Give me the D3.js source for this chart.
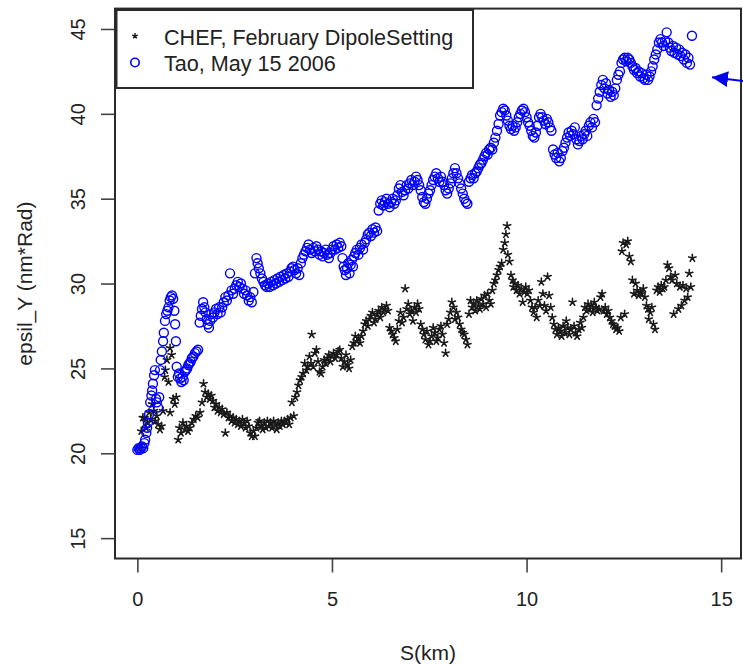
<!DOCTYPE html>
<html>
<head>
<meta charset="utf-8">
<script src="https://cdn.jsdelivr.net/npm/d3@7"></script>
<style>
  html, body { margin: 0; padding: 0; background: #fff; }
  svg { display: block; }
  text { font-family: "Liberation Sans", Arial, Helvetica, sans-serif; fill: #222; }
</style>
</head>
<body>
<svg id="chart" width="743" height="665"></svg>
<script>
// ---------------- data ----------------
const xTicks = [0, 5, 10, 15];
const yTicks = [15, 20, 25, 30, 35, 40, 45];
const xLabel = "S(km)";
const yLabel = "epsil_Y (nm*Rad)";
const legendLabels = ["CHEF, February DipoleSetting", "Tao, May 15 2006"];

// Tao, May 15 2006  [S (km), epsil_Y]
const taoPoints = [
[0.00,20.2],[0.03,20.3],[0.06,20.2],[0.09,20.3],[0.12,20.4],[0.15,20.3],[0.18,20.6],[0.20,20.8],[0.23,21.2],[0.25,21.5],
[0.27,21.8],[0.30,22.3],[0.33,23.0],[0.36,23.4],[0.38,23.7],[0.40,24.1],[0.43,24.6],[0.45,24.9],[0.48,23.2],[0.50,23.0],
[0.53,22.7],[0.56,23.3],[0.58,24.9],[0.60,25.5],[0.63,26.0],[0.66,26.6],[0.68,27.1],[0.71,27.8],[0.74,28.2],[0.77,28.4],
[0.80,28.6],[0.83,29.0],[0.86,29.2],[0.89,29.3],[0.92,29.1],[0.95,28.4],[0.97,27.6],[0.99,26.6],[1.01,25.1],[1.04,24.5],
[1.07,24.7],[1.10,24.4],[1.13,24.2],[1.16,24.5],[1.19,24.3],[1.22,24.8],[1.25,24.9],[1.28,25.0],[1.31,25.2],[1.34,25.3],
[1.37,25.4],[1.40,25.6],[1.44,25.7],[1.48,25.9],[1.52,26.0],[1.56,26.1],[1.60,27.7],[1.63,28.1],[1.66,28.5],[1.69,28.9],
[1.72,28.6],[1.75,28.3],[1.78,27.9],[1.81,27.6],[1.84,27.4],[1.87,27.8],[1.90,28.2],[1.94,28.0],[1.98,28.3],[2.02,28.5],
[2.06,28.2],[2.10,28.6],[2.14,28.3],[2.18,28.6],[2.22,28.9],[2.26,29.2],[2.30,29.0],[2.34,29.3],[2.38,30.6],[2.42,29.6],
[2.46,29.4],[2.50,29.7],[2.54,29.9],[2.58,30.1],[2.62,29.8],[2.66,30.0],[2.70,29.7],[2.74,29.4],[2.78,29.6],[2.82,29.3],
[2.86,29.0],[2.90,29.2],[2.94,28.9],[2.98,29.5],[3.02,30.6],[3.06,31.5],[3.09,31.2],[3.12,30.9],[3.16,30.6],[3.20,30.3],
[3.24,30.1],[3.28,29.9],[3.32,29.8],[3.36,30.0],[3.40,29.8],[3.44,30.1],[3.48,29.9],[3.52,30.2],[3.56,30.0],[3.60,30.3],
[3.64,30.1],[3.68,30.4],[3.72,30.2],[3.76,30.5],[3.80,30.3],[3.84,30.6],[3.88,30.4],[3.92,30.7],[3.96,30.9],[4.00,31.0],
[4.04,30.8],[4.08,30.6],[4.12,30.9],[4.16,30.5],[4.20,31.2],[4.24,31.5],[4.28,31.7],[4.32,31.9],[4.36,32.1],[4.40,32.3],
[4.44,32.0],[4.48,31.8],[4.52,32.1],[4.56,31.9],[4.60,32.2],[4.64,32.0],[4.68,31.7],[4.72,31.9],[4.76,31.6],[4.80,31.8],
[4.84,32.0],[4.88,31.7],[4.92,31.5],[4.96,31.8],[5.00,32.0],[5.04,32.2],[5.08,32.0],[5.12,32.3],[5.16,32.1],[5.20,32.4],
[5.24,32.2],[5.27,31.5],[5.30,31.0],[5.33,30.8],[5.36,30.5],[5.39,30.9],[5.42,31.2],[5.45,30.6],[5.48,31.1],[5.51,31.4],
[5.54,31.0],[5.57,31.6],[5.60,31.8],[5.64,32.0],[5.68,31.7],[5.72,32.1],[5.76,32.3],[5.80,32.0],[5.84,32.4],[5.88,32.6],
[5.92,32.9],[5.96,33.0],[6.00,32.8],[6.04,33.2],[6.08,33.0],[6.12,33.3],[6.16,33.1],[6.20,34.3],[6.24,34.7],[6.28,34.9],
[6.32,34.6],[6.36,34.8],[6.40,35.0],[6.44,34.7],[6.48,34.5],[6.52,34.8],[6.56,35.0],[6.60,34.7],[6.64,34.9],[6.68,35.2],
[6.72,35.6],[6.76,35.8],[6.80,35.4],[6.84,35.2],[6.88,35.5],[6.92,35.8],[6.96,35.6],[7.00,35.9],[7.04,36.1],[7.08,35.8],
[7.12,36.0],[7.16,36.3],[7.20,36.1],[7.24,35.8],[7.28,35.5],[7.32,35.1],[7.36,34.8],[7.40,34.7],[7.44,35.0],[7.48,35.3],
[7.52,35.5],[7.56,35.8],[7.60,36.1],[7.64,36.3],[7.68,36.5],[7.72,36.2],[7.76,36.0],[7.80,36.3],[7.84,36.0],[7.88,35.8],
[7.92,35.5],[7.96,35.3],[8.00,35.6],[8.04,35.9],[8.08,36.2],[8.12,36.5],[8.16,36.8],[8.20,36.5],[8.24,36.2],[8.28,35.9],
[8.32,35.6],[8.36,35.3],[8.40,35.0],[8.44,34.8],[8.48,34.7],[8.52,36.0],[8.56,36.2],[8.60,36.4],[8.64,36.2],[8.68,36.5],
[8.72,36.6],[8.76,36.8],[8.80,37.0],[8.84,37.1],[8.88,37.3],[8.92,37.5],[8.96,37.7],[9.00,37.6],[9.04,37.9],[9.08,38.0],
[9.12,37.9],[9.16,38.3],[9.20,38.6],[9.24,39.0],[9.28,39.4],[9.32,39.9],[9.36,40.1],[9.40,40.3],[9.44,40.2],[9.48,39.9],
[9.52,39.6],[9.56,39.3],[9.60,39.1],[9.64,39.3],[9.68,39.0],[9.72,39.2],[9.76,39.5],[9.80,39.8],[9.84,40.0],[9.88,40.2],
[9.92,40.3],[9.96,40.1],[10.00,39.8],[10.04,39.5],[10.08,39.3],[10.12,39.0],[10.16,38.7],[10.20,38.6],[10.24,38.9],[10.28,39.3],
[10.32,39.8],[10.36,40.0],[10.40,39.8],[10.44,39.6],[10.48,39.4],[10.52,39.7],[10.56,39.5],[10.60,39.2],[10.64,39.0],[10.68,37.9],
[10.72,37.6],[10.76,37.4],[10.80,37.7],[10.84,37.2],[10.88,37.4],[10.92,37.8],[10.96,38.0],[11.00,38.3],[11.04,38.6],[11.08,38.9],
[11.12,38.7],[11.16,39.0],[11.20,38.8],[11.24,39.2],[11.28,38.5],[11.32,38.2],[11.36,38.4],[11.40,38.7],[11.44,38.5],[11.48,38.8],
[11.52,39.0],[11.56,38.7],[11.60,39.3],[11.64,39.5],[11.68,39.2],[11.72,39.7],[11.76,39.5],[11.80,40.5],[11.84,40.9],[11.88,41.3],
[11.92,41.7],[11.96,42.0],[12.00,41.5],[12.04,41.8],[12.08,41.2],[12.12,41.4],[12.16,41.0],[12.20,41.3],[12.24,41.1],[12.28,41.5],
[12.32,42.0],[12.36,42.3],[12.40,42.5],[12.44,43.0],[12.48,43.2],[12.52,43.3],[12.56,43.1],[12.60,43.3],[12.64,43.2],[12.68,43.0],
[12.72,42.8],[12.76,42.6],[12.80,42.7],[12.84,42.4],[12.88,42.5],[12.92,42.2],[12.96,42.4],[13.00,42.1],[13.04,42.0],[13.08,42.3],
[13.12,42.0],[13.16,42.2],[13.20,42.5],[13.24,42.8],[13.28,43.2],[13.32,43.5],[13.36,43.8],[13.40,44.2],[13.44,44.4],[13.48,44.2],
[13.52,44.0],[13.56,44.3],[13.60,44.8],[13.64,44.2],[13.68,43.9],[13.72,43.7],[13.76,44.0],[13.80,43.6],[13.84,43.9],[13.88,43.5],
[13.92,43.8],[13.96,43.4],[14.00,43.6],[14.04,43.2],[14.08,43.5],[14.12,43.0],[14.16,43.3],[14.20,42.9],[14.25,44.6]
];

// CHEF, February DipoleSetting  [S (km), epsil_Y]
const chefPoints = [
[0.05,20.3],[0.10,21.3],[0.14,22.1],[0.18,22.1],[0.22,21.5],[0.26,21.8],[0.30,22.4],[0.34,22.0],[0.38,22.9],[0.42,22.5],
[0.46,21.9],[0.50,22.2],[0.53,21.7],[0.58,21.4],[0.62,21.6],[0.66,22.5],[0.70,24.5],[0.72,24.9],[0.76,25.5],[0.80,24.2],
[0.84,26.2],[0.88,25.8],[0.84,22.4],[0.92,23.2],[0.96,22.9],[1.00,23.3],[1.05,20.8],[1.08,21.5],[1.12,21.2],[1.17,21.8],
[1.22,21.4],[1.26,21.6],[1.30,21.3],[1.35,21.5],[1.40,21.8],[1.45,22.0],[1.50,22.2],[1.55,22.1],[1.61,22.4],[1.66,23.0],
[1.70,24.1],[1.74,23.6],[1.78,23.3],[1.82,23.5],[1.86,23.2],[1.90,23.4],[1.94,23.1],[1.98,22.7],[2.02,22.9],[2.06,22.5],
[2.10,22.7],[2.14,22.4],[2.18,22.6],[2.22,22.3],[2.26,21.2],[2.30,22.4],[2.34,22.1],[2.38,22.2],[2.42,21.9],[2.46,22.1],
[2.50,21.8],[2.54,22.0],[2.58,21.7],[2.62,21.9],[2.66,21.6],[2.70,22.0],[2.74,21.8],[2.78,21.5],[2.82,21.9],[2.86,21.6],
[2.90,21.2],[2.94,21.0],[2.98,21.3],[3.02,21.0],[3.06,21.5],[3.10,21.8],[3.14,21.9],[3.18,21.6],[3.22,21.4],[3.26,21.8],
[3.30,21.5],[3.34,21.9],[3.38,21.6],[3.42,21.8],[3.46,21.5],[3.50,21.9],[3.54,21.7],[3.58,21.4],[3.62,21.8],[3.66,21.6],
[3.70,21.9],[3.74,21.7],[3.78,21.9],[3.82,21.8],[3.86,22.0],[3.90,21.7],[3.94,22.1],[3.97,23.0],[4.02,22.2],[4.06,23.3],
[4.10,23.6],[4.14,24.0],[4.18,24.3],[4.22,24.5],[4.26,24.7],[4.30,25.3],[4.34,24.9],[4.38,25.1],[4.42,25.7],[4.46,25.3],
[4.48,27.0],[4.52,25.1],[4.56,25.9],[4.60,26.1],[4.64,25.4],[4.68,24.8],[4.72,24.7],[4.76,25.1],[4.80,25.5],[4.84,25.3],
[4.88,25.6],[4.92,25.8],[4.96,25.4],[5.00,25.7],[5.04,25.9],[5.08,25.6],[5.12,25.8],[5.16,26.0],[5.20,26.1],[5.24,25.6],
[5.28,25.1],[5.32,25.4],[5.36,25.8],[5.40,25.2],[5.44,25.0],[5.48,25.5],[5.52,26.3],[5.56,26.5],[5.60,26.9],[5.64,26.6],
[5.68,26.8],[5.72,26.5],[5.76,26.9],[5.80,27.2],[5.84,27.6],[5.88,27.8],[5.92,27.5],[5.96,27.9],[6.00,28.1],[6.04,28.3],
[6.08,27.7],[6.12,27.9],[6.16,28.2],[6.20,28.4],[6.24,28.0],[6.28,28.6],[6.32,28.3],[6.36,28.5],[6.40,28.7],[6.44,28.4],
[6.48,27.4],[6.52,27.2],[6.56,27.0],[6.60,26.8],[6.64,26.6],[6.68,27.3],[6.72,27.8],[6.76,28.3],[6.80,27.7],[6.84,28.0],
[6.88,29.7],[6.92,28.5],[6.96,28.8],[7.00,28.2],[7.04,28.4],[7.08,27.8],[7.12,28.6],[7.16,28.3],[7.20,28.8],[7.24,28.5],
[7.28,27.6],[7.32,27.3],[7.36,27.0],[7.40,26.7],[7.44,27.2],[7.48,26.4],[7.52,26.6],[7.56,26.9],[7.60,27.4],[7.64,27.1],
[7.68,26.6],[7.72,26.8],[7.76,27.3],[7.80,27.5],[7.84,27.0],[7.88,26.5],[7.92,25.9],[7.96,27.6],[8.00,27.9],[8.04,28.3],
[8.08,28.9],[8.12,28.6],[8.16,27.9],[8.20,28.3],[8.24,28.0],[8.28,27.6],[8.32,27.3],[8.36,27.1],[8.40,27.0],[8.44,26.7],
[8.48,26.4],[8.52,28.2],[8.56,29.0],[8.60,28.6],[8.64,28.8],[8.68,28.4],[8.72,29.0],[8.76,28.7],[8.80,28.5],[8.84,29.1],
[8.88,28.8],[8.92,29.3],[8.96,28.6],[9.00,29.4],[9.04,29.0],[9.08,28.8],[9.12,29.6],[9.16,30.0],[9.20,30.2],[9.24,30.5],
[9.28,30.8],[9.32,31.0],[9.36,31.2],[9.40,32.0],[9.44,32.4],[9.47,32.9],[9.50,33.4],[9.52,31.7],[9.56,31.3],[9.60,30.5],
[9.64,30.2],[9.66,29.8],[9.70,30.0],[9.74,29.6],[9.78,29.9],[9.82,29.4],[9.86,29.7],[9.90,28.9],[9.94,29.5],[9.98,29.8],
[10.02,29.4],[10.06,29.6],[10.10,29.0],[10.14,28.6],[10.18,28.3],[10.22,28.6],[10.26,28.0],[10.30,29.0],[10.34,28.7],[10.38,30.1],
[10.42,29.4],[10.46,28.7],[10.50,28.4],[10.54,30.4],[10.58,29.3],[10.62,28.6],[10.66,28.0],[10.70,27.6],[10.74,27.3],[10.78,27.0],
[10.82,27.4],[10.86,27.2],[10.90,26.9],[10.94,27.5],[10.98,27.1],[11.02,27.8],[11.06,27.4],[11.10,27.0],[11.14,27.3],[11.18,28.9],
[11.22,27.5],[11.26,27.1],[11.30,26.9],[11.34,27.3],[11.38,27.7],[11.42,27.4],[11.46,28.0],[11.50,28.6],[11.54,28.4],[11.58,28.8],
[11.62,28.5],[11.66,28.7],[11.70,28.3],[11.74,28.9],[11.78,28.6],[11.82,28.4],[11.86,28.5],[11.90,29.2],[11.94,29.4],[11.98,28.4],
[12.02,28.6],[12.06,28.2],[12.10,28.4],[12.14,28.0],[12.18,27.8],[12.22,27.6],[12.26,27.5],[12.30,27.3],[12.34,27.4],[12.38,27.2],
[12.42,28.0],[12.45,31.9],[12.48,32.4],[12.52,28.2],[12.56,32.3],[12.60,32.5],[12.64,31.6],[12.68,31.3],[12.72,30.2],[12.76,29.4],
[12.80,30.0],[12.84,29.6],[12.88,29.3],[12.92,29.5],[12.96,29.4],[13.00,29.7],[13.04,29.2],[13.08,28.7],[13.12,28.5],[13.14,27.9],
[13.18,28.3],[13.22,28.6],[13.26,27.6],[13.30,27.3],[13.34,29.6],[13.38,29.8],[13.42,29.5],[13.46,29.9],[13.50,29.7],[13.54,29.8],
[13.58,30.2],[13.62,31.1],[13.66,30.9],[13.70,30.4],[13.74,30.2],[13.78,28.2],[13.82,30.5],[13.86,30.0],[13.90,28.5],[13.94,29.8],
[13.98,28.7],[14.02,29.9],[14.06,29.0],[14.10,29.7],[14.14,29.2],[14.18,30.6],[14.22,29.8],[14.26,31.5]
];

// ---------------- drawing ----------------
const svg = d3.select("#chart");
const FS_TICK = 20;
const FS_TITLE = 21;
const FS_LEG = 21.6;

const x = d3.scaleLinear().domain([-0.575, 15.51]).range([115, 741]);
const y = d3.scaleLinear().domain([13.8, 46.2]).range([558.5, 8.6]);

// star (asterisk-like) path
function starPath(r) {
  let d = "";
  for (let i = 0; i < 5; i++) {
    const a = -Math.PI / 2 + i * 2 * Math.PI / 5;
    d += `M0,0L${(r * Math.cos(a)).toFixed(2)},${(r * Math.sin(a)).toFixed(2)}`;
  }
  return d;
}
const STAR = starPath(3.8);

// CHEF points
svg.append("g")
  .selectAll("path")
  .data(chefPoints)
  .join("path")
  .attr("d", STAR)
  .attr("transform", d => `translate(${x(d[0])},${y(d[1])})`)
  .attr("fill", "none")
  .attr("stroke", "#1a1a1a")
  .attr("stroke-width", 1.6)
  .attr("stroke-linecap", "round");

// Tao points
svg.append("g")
  .selectAll("circle")
  .data(taoPoints)
  .join("circle")
  .attr("cx", d => x(d[0]))
  .attr("cy", d => y(d[1]))
  .attr("r", 4.5)
  .attr("fill", "none")
  .attr("stroke", "#0000ff")
  .attr("stroke-width", 1.4);

// axes
const xAxis = svg.append("g")
  .attr("transform", `translate(0,${y.range()[0]})`)
  .call(d3.axisBottom(x).tickValues(xTicks).tickSize(14).tickFormat(d3.format("d")));
xAxis.select(".domain").remove();
xAxis.selectAll(".tick line").attr("stroke", "#444").attr("stroke-width", 1.6);
xAxis.selectAll(".tick text")
  .attr("y", 47.5).attr("dy", 0)
  .style("font-size", FS_TICK + "px")
  .style("font-family", '"Liberation Sans", Arial, sans-serif')
  .attr("fill", "#222");

const yAxis = svg.append("g")
  .attr("transform", `translate(${x.range()[0]},0)`)
  .call(d3.axisLeft(y).tickValues(yTicks).tickSize(14).tickFormat(d3.format("d")));
yAxis.select(".domain").remove();
yAxis.selectAll(".tick line").attr("stroke", "#444").attr("stroke-width", 1.6);
yAxis.selectAll(".tick text")
  .attr("x", 0).attr("dy", 0)
  .attr("transform", "translate(-30,0) rotate(-90)")
  .attr("text-anchor", "middle")
  .style("font-size", FS_TICK + "px")
  .style("font-family", '"Liberation Sans", Arial, sans-serif')
  .attr("fill", "#222");

// plot box
svg.append("rect")
  .attr("x", x.range()[0]).attr("y", y.range()[1])
  .attr("width", x.range()[1] - x.range()[0])
  .attr("height", y.range()[0] - y.range()[1])
  .attr("fill", "none").attr("stroke", "#2a2a2a").attr("stroke-width", 2);

// axis titles
svg.append("text")
  .attr("x", (x.range()[0] + x.range()[1]) / 2)
  .attr("y", 660)
  .attr("text-anchor", "middle")
  .style("font-size", FS_TITLE + "px")
  .text(xLabel);

svg.append("text")
  .attr("transform", `translate(32,${(y.range()[0] + y.range()[1]) / 2}) rotate(-90)`)
  .attr("text-anchor", "middle")
  .style("font-size", FS_TITLE + "px")
  .text(yLabel);

// legend
const lg = svg.append("g");
lg.append("rect")
  .attr("x", 116.5).attr("y", 10)
  .attr("width", 473 - 116.5).attr("height", 88 - 10)
  .attr("fill", "#fff").attr("stroke", "#2a2a2a").attr("stroke-width", 2);
lg.append("path")
  .attr("d", starPath(3))
  .attr("transform", "translate(135,36)")
  .attr("fill", "none").attr("stroke", "#1a1a1a").attr("stroke-width", 1.4);
lg.append("circle")
  .attr("cx", 135).attr("cy", 62.5).attr("r", 4.2)
  .attr("fill", "none").attr("stroke", "#0000ff").attr("stroke-width", 1.6);
lg.selectAll("text.lab")
  .data(legendLabels)
  .join("text")
  .attr("class", "lab")
  .attr("x", 164)
  .attr("y", (d, i) => 44.5 + i * 26)
  .style("font-size", FS_LEG + "px")
  .text(d => d);

// arrow (annotation from the right)
const defs = svg.append("defs");
defs.append("marker")
  .attr("id", "ah")
  .attr("viewBox", "0 0 10 10")
  .attr("refX", 10).attr("refY", 5)
  .attr("markerWidth", 8).attr("markerHeight", 8)
  .attr("markerUnits", "strokeWidth")
  .attr("orient", "auto")
  .append("path")
  .attr("d", "M0,0L10,5L0,10Z")
  .attr("fill", "#0000ee");
svg.append("line")
  .attr("x1", 748).attr("y1", 81.5)
  .attr("x2", 712).attr("y2", 77.3)
  .attr("stroke", "#0000ee").attr("stroke-width", 2)
  .attr("marker-end", "url(#ah)");
</script>
</body>
</html>
